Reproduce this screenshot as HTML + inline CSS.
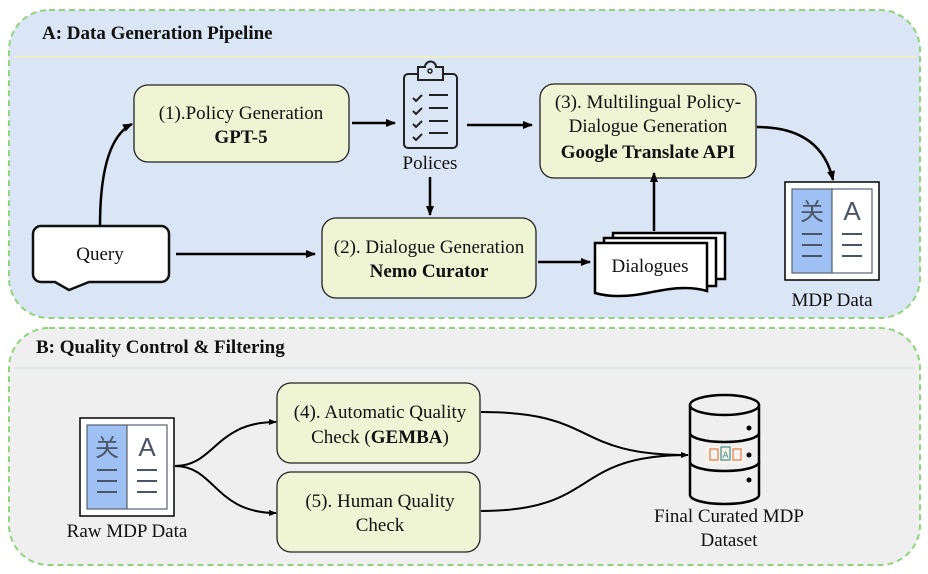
<!DOCTYPE html>
<html><head><meta charset="utf-8"><style>
html,body{margin:0;padding:0;background:#fff;width:928px;height:574px;overflow:hidden}
text{font-family:"Liberation Serif","Noto Serif CJK SC",serif;fill:#111}
</style></head><body>
<svg width="928" height="574" viewBox="0 0 928 574" xmlns="http://www.w3.org/2000/svg">
<defs>
<marker id="ah" markerWidth="10" markerHeight="8" refX="9" refY="4" orient="auto" markerUnits="userSpaceOnUse"><path d="M0,0 L10,4 L0,8 Z" fill="#000"/></marker>
<marker id="as" markerWidth="8" markerHeight="6" refX="7" refY="3" orient="auto" markerUnits="userSpaceOnUse"><path d="M0,0 L8,3 L0,6 Z" fill="#000"/></marker>
<g id="mdp">
<rect x="0" y="0" width="94" height="98" fill="#fff" stroke="#000" stroke-width="1.5"/>
<rect x="7" y="7" width="40" height="84" fill="#9ec0f2" stroke="#5a6272" stroke-width="1.2"/>
<rect x="47" y="7" width="40" height="84" fill="#fff" stroke="#5a6272" stroke-width="1.2"/>
<text x="27" y="38" font-size="24" text-anchor="middle" style="fill:#4a5568;font-family:'Noto Sans CJK SC',sans-serif">关</text>
<text x="67" y="38" font-size="26" text-anchor="middle" style="fill:#4a5568;font-family:'Liberation Sans',sans-serif">A</text>
<path d="M17,52h20M17,63h20M17,74h20M57,52h20M57,63h20M57,74h20" stroke="#4a5568" stroke-width="2"/>
</g>
</defs>

<!-- Panel A -->
<rect x="9" y="10" width="911" height="308" rx="40" fill="#dae5f5" stroke="#8fd47c" stroke-width="2" stroke-dasharray="6,4"/>
<line x1="14" y1="57" x2="916" y2="57" stroke="#f0eec4" stroke-width="2"/>
<text x="42" y="39" font-size="19" font-weight="bold">A: Data Generation  Pipeline</text>

<rect x="134" y="85" width="215" height="77" rx="14" fill="#eff5d4" stroke="#222" stroke-width="1.3"/>
<text x="241" y="119" font-size="19" text-anchor="middle">(1).Policy Generation</text>
<text x="241" y="143" font-size="19" font-weight="bold" text-anchor="middle">GPT-5</text>

<line x1="352" y1="123" x2="395" y2="123" stroke="#000" stroke-width="2.5" marker-end="url(#ah)"/>

<!-- clipboard -->
<rect x="404" y="74" width="53" height="74" rx="4" fill="none" stroke="#222" stroke-width="2"/>
<path d="M418,74 v-7 h7 a5,5 0 0 1 11,0 h7 v7 v6 h-25 z" fill="#dae5f5" stroke="#222" stroke-width="2"/>
<circle cx="430" cy="71" r="2" fill="none" stroke="#222" stroke-width="1.5"/>
<path d="M413,98 l3,3 l6,-6 M413,111 l3,3 l6,-6 M413,124 l3,3 l6,-6 M413,137 l3,3 l6,-6" fill="none" stroke="#222" stroke-width="2"/>
<path d="M429,95h19M429,108h19M429,121h19M429,133h19" stroke="#222" stroke-width="2"/>
<text x="430" y="169" font-size="19" text-anchor="middle">Polices</text>

<line x1="467" y1="125" x2="532" y2="125" stroke="#000" stroke-width="2.5" marker-end="url(#ah)"/>

<rect x="540" y="84" width="216" height="94" rx="14" fill="#eff5d4" stroke="#222" stroke-width="1.3"/>
<text x="648" y="108" font-size="19" text-anchor="middle">(3). Multilingual Policy-</text>
<text x="648" y="132" font-size="19" text-anchor="middle">Dialogue  Generation</text>
<text x="648" y="158" font-size="19" font-weight="bold" text-anchor="middle">Google Translate API</text>

<path d="M757,127 C800,127 825,145 833,180" fill="none" stroke="#000" stroke-width="2.5" marker-end="url(#ah)"/>

<use href="#mdp" x="785" y="182"/>
<text x="832" y="306" font-size="19" text-anchor="middle">MDP Data</text>

<!-- Query -->
<path d="M100,226 C100,170 110,135 132,124" fill="none" stroke="#000" stroke-width="2.5" marker-end="url(#ah)"/>
<path d="M41,226 h120 a8,8 0 0 1 8,8 v40 a8,8 0 0 1 -8,8 h-72 l-20,8 l-14,-8 h-14 a8,8 0 0 1 -8,-8 v-40 a8,8 0 0 1 8,-8 z" fill="#fff" stroke="#111" stroke-width="2.5"/>
<text x="100" y="260" font-size="19" text-anchor="middle">Query</text>

<line x1="176" y1="254" x2="315" y2="254" stroke="#000" stroke-width="2.5" marker-end="url(#ah)"/>

<rect x="322" y="218" width="214" height="80" rx="14" fill="#eff5d4" stroke="#222" stroke-width="1.3"/>
<text x="429" y="253" font-size="19" text-anchor="middle">(2). Dialogue Generation</text>
<text x="429" y="277" font-size="19" font-weight="bold" text-anchor="middle">Nemo Curator</text>

<line x1="430" y1="177" x2="430" y2="215" stroke="#000" stroke-width="2.5" marker-end="url(#ah)"/>
<line x1="538" y1="262" x2="590" y2="262" stroke="#000" stroke-width="2.5" marker-end="url(#ah)"/>

<!-- Dialogues -->
<rect x="613" y="233" width="112" height="46" fill="#fff" stroke="#000" stroke-width="2.5"/>
<rect x="604" y="238" width="112" height="48" fill="#fff" stroke="#000" stroke-width="2.5"/>
<path d="M595,243 h112 v48 c-20,-6 -40,-2 -60,2 c-20,4 -38,4 -52,0 z" fill="#fff" stroke="#000" stroke-width="2.5"/>
<text x="650" y="272" font-size="19" text-anchor="middle">Dialogues</text>

<line x1="654" y1="231" x2="654" y2="173" stroke="#000" stroke-width="2.5" marker-end="url(#ah)"/>

<!-- Panel B -->
<rect x="9" y="328" width="911" height="237" rx="40" fill="#efefef" stroke="#8fd47c" stroke-width="2" stroke-dasharray="6,4"/>
<line x1="14" y1="368" x2="916" y2="368" stroke="#dde4ef" stroke-width="1.5"/>
<text x="36" y="353" font-size="19" font-weight="bold">B: Quality Control &amp; Filtering</text>

<use href="#mdp" x="80" y="418"/>
<text x="127" y="537" font-size="19" text-anchor="middle">Raw  MDP Data</text>

<path d="M175,466 C215,466 215,422 276,422" fill="none" stroke="#000" stroke-width="2" marker-end="url(#as)"/>
<path d="M175,466 C215,466 215,513 276,513" fill="none" stroke="#000" stroke-width="2" marker-end="url(#as)"/>

<rect x="277" y="383" width="203" height="80" rx="14" fill="#eff5d4" stroke="#222" stroke-width="1.3"/>
<text x="380" y="418" font-size="19" text-anchor="middle">(4).  Automatic Quality</text>
<text x="380" y="443" font-size="19" text-anchor="middle">Check (<tspan font-weight="bold">GEMBA</tspan>)</text>

<rect x="277" y="472" width="203" height="80" rx="14" fill="#eff5d4" stroke="#222" stroke-width="1.3"/>
<text x="380" y="507" font-size="19" text-anchor="middle">(5).  Human Quality</text>
<text x="380" y="531" font-size="19" text-anchor="middle">Check</text>

<path d="M481,412 C600,412 570,455 688,455" fill="none" stroke="#000" stroke-width="2"/>
<path d="M481,511 C600,511 570,455 688,455" fill="none" stroke="#000" stroke-width="2" marker-end="url(#as)"/>

<!-- cylinder -->
<path d="M690,405 v90 M759,405 v90" stroke="#000" stroke-width="2.5"/>
<path d="M690,495 a34.5,9 0 0 0 69,0" fill="none" stroke="#000" stroke-width="2.5"/>
<ellipse cx="724.5" cy="405" rx="34.5" ry="10" fill="#efefef" stroke="#000" stroke-width="2.5"/>
<path d="M690,433 a34.5,9 0 0 0 69,0 M690,462 a34.5,9 0 0 0 69,0" fill="none" stroke="#000" stroke-width="2.5"/>
<circle cx="749" cy="428" r="2.5" fill="#000"/><circle cx="749" cy="455" r="2.5" fill="#000"/><circle cx="749" cy="480" r="2.5" fill="#000"/>
<rect x="706" y="446" width="38" height="18" fill="#f7f2ea"/>
<rect x="710" y="449" width="8" height="11" fill="none" stroke="#e07a4f" stroke-width="1.2"/>
<rect x="721" y="447" width="9" height="13" fill="none" stroke="#3d8f86" stroke-width="1.2"/>
<rect x="733" y="449" width="8" height="11" fill="none" stroke="#e07a4f" stroke-width="1.2"/>
<text x="725.5" y="458" font-size="9" text-anchor="middle" style="fill:#3d8f86;font-family:'Liberation Sans',sans-serif">A</text>
<text x="729" y="522" font-size="19" text-anchor="middle">Final Curated  MDP</text>
<text x="729" y="546" font-size="19" text-anchor="middle">Dataset</text>
</svg>
</body></html>
